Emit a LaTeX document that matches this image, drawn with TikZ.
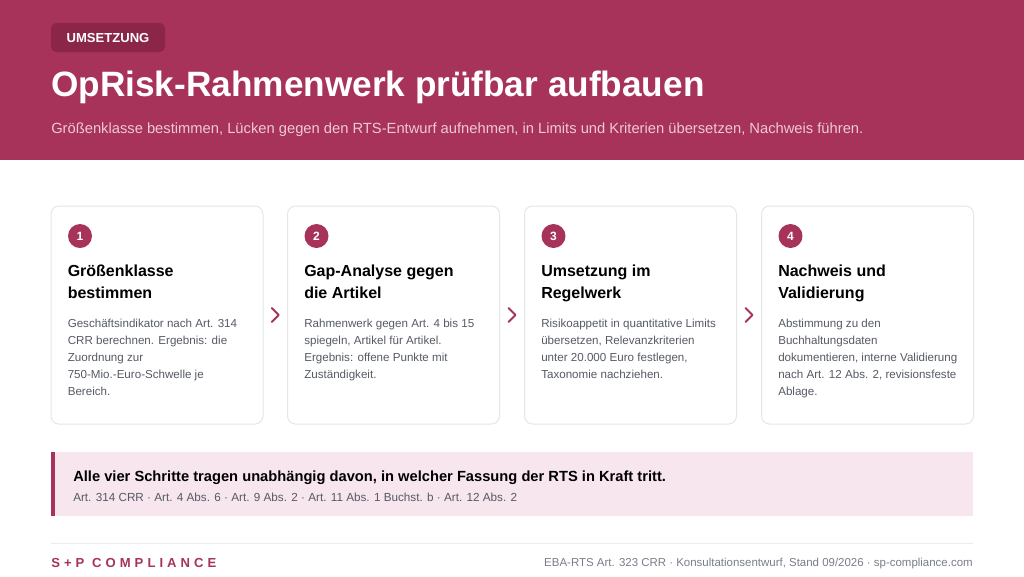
\documentclass[tikz,border=0pt]{standalone}
\usepackage{fontspec}
\setmainfont{Liberation Sans}
\newfontfamily\spacedfont[LetterSpace=31]{Liberation Sans}
\usetikzlibrary{calc}
\definecolor{brand}{RGB}{167,51,90}
\definecolor{tagfill}{RGB}{140,38,72}
\definecolor{subpink}{RGB}{240,200,214}
\definecolor{cardline}{RGB}{228,230,234}
\definecolor{bodygray}{RGB}{85,90,100}
\definecolor{calloutfill}{RGB}{248,230,238}
\definecolor{footline}{RGB}{236,236,240}
\definecolor{footgray}{RGB}{120,125,135}
\newcommand{\fs}[1]{\fontsize{#1}{#1}\selectfont}
\begin{document}
\begin{tikzpicture}[x=0.75pt,y=-0.75pt,
  txt/.style={inner sep=0pt,anchor=base west},
  card/.style={draw=cardline,line width=0.75pt,fill=white,rounded corners=6pt,minimum width=159pt,minimum height=163.5pt,inner sep=0pt},
  numdot/.style={circle,fill=brand,minimum size=18pt,inner sep=0pt,text=white,font=\bfseries\fs{9pt}},
  ctitle/.style={txt,font=\bfseries\fs{12pt},text=black,align=left},
  cbody/.style={txt,font=\fs{8.7pt},text=bodygray},
  chev/.style={draw=brand,line width=1.4pt,line cap=round,line join=round}]
\useasboundingbox (0,0) rectangle (1024,576);
% header
\fill[brand] (0,0) rectangle (1024,160);
\node[fill=tagfill,rounded corners=4pt,minimum width=85.5pt,minimum height=21.75pt,inner sep=0pt] (tag) at (108,37.5) {};
\node[text=white,font=\bfseries\fs{9.8pt},inner sep=0pt] (tagtxt) at (tag.center) {UMSETZUNG};
\node[txt,text=white,font=\bfseries\fs{26.4pt}] (title) at (51,96) {OpRisk-Rahmenwerk prüfbar aufbauen};
\node[txt,text=subpink,font=\fs{11.05pt}] (sub) at (51,133) {Größenklasse bestimmen, Lücken gegen den RTS-Entwurf aufnehmen, in Limits und Kriterien übersetzen, Nachweis führen.};
% cards
\foreach \i/\x in {1/157,2/393.5,3/630.5,4/867.5}{
  \node[card] (c\i) at (\x,315) {};
  \node[numdot] (n\i) at ($(c\i.north west)+(29.5,30.5)$) {\i};
}
\node[ctitle] (t1a) at ($(c1.north west)+(17,71)$) {Größenklasse};
\node[ctitle] (t1b) at ($(c1.north west)+(17,93)$) {bestimmen};
\node[ctitle] (t2a) at ($(c2.north west)+(17,71)$) {Gap-Analyse gegen};
\node[ctitle] (t2b) at ($(c2.north west)+(17,93)$) {die Artikel};
\node[ctitle] (t3a) at ($(c3.north west)+(17,71)$) {Umsetzung im};
\node[ctitle] (t3b) at ($(c3.north west)+(17,93)$) {Regelwerk};
\node[ctitle] (t4a) at ($(c4.north west)+(17,71)$) {Nachweis und};
\node[ctitle] (t4b) at ($(c4.north west)+(17,93)$) {Validierung};
% bodies
\foreach \c/\k/\t in {1/1/Geschäftsindikator nach Art. 314,1/2/CRR berechnen. Ergebnis: die,1/3/Zuordnung zur,1/4/750-Mio.-Euro-Schwelle je,1/5/Bereich.,
  2/1/Rahmenwerk gegen Art. 4 bis 15,2/2/{spiegeln, Artikel für Artikel.},2/3/Ergebnis: offene Punkte mit,2/4/Zuständigkeit.,
  3/1/Risikoappetit in quantitative Limits,3/2/{übersetzen, Relevanzkriterien},3/3/{unter 20.000 Euro festlegen,},3/4/Taxonomie nachziehen.,
  4/1/Abstimmung zu den,4/2/Buchhaltungsdaten,4/3/{dokumentieren, interne Validierung},4/4/{nach Art. 12 Abs. 2, revisionsfeste},4/5/Ablage.}{
  \node[cbody] (b\c-\k) at ($(c\c.north west)+(17,105+17*\k)$) {\t};
}
% chevrons
\foreach \a/\b in {1/2,2/3,3/4}{
  \coordinate (m\a) at ($(c\a.east)!0.5!(c\b.west)$);
  \draw[chev] ($(m\a)+(-3.5,-7)$) -- ($(m\a)+(3.5,0)$) -- ($(m\a)+(-3.5,7)$);
}
% callout
\fill[calloutfill] (51,452) rectangle (973,516);
\fill[brand] (51,452) rectangle (55,516);
\node[txt,font=\bfseries\fs{11.02pt},text=black] (cmain) at (73,481) {Alle vier Schritte tragen unabhängig davon, in welcher Fassung der RTS in Kraft tritt.};
\node[txt,font=\fs{8.78pt},text=bodygray] (csub) at (73,501) {Art. 314 CRR · Art. 4 Abs. 6 · Art. 9 Abs. 2 · Art. 11 Abs. 1 Buchst. b · Art. 12 Abs. 2};
% footer
\draw[footline,line width=0.75pt] (51,543) -- (973,543);
\node[txt,font=\spacedfont\bfseries\fs{9.8pt},text=brand] (brandname) at (51,567) {S+P COMPLIANCE};
\node[inner sep=0pt,anchor=base east,font=\fs{8.6pt},text=footgray] (foot) at (973,566.5) {EBA-RTS Art. 323 CRR · Konsultationsentwurf, Stand 09/2026 · sp-compliance.com};
\end{tikzpicture}
\end{document}
